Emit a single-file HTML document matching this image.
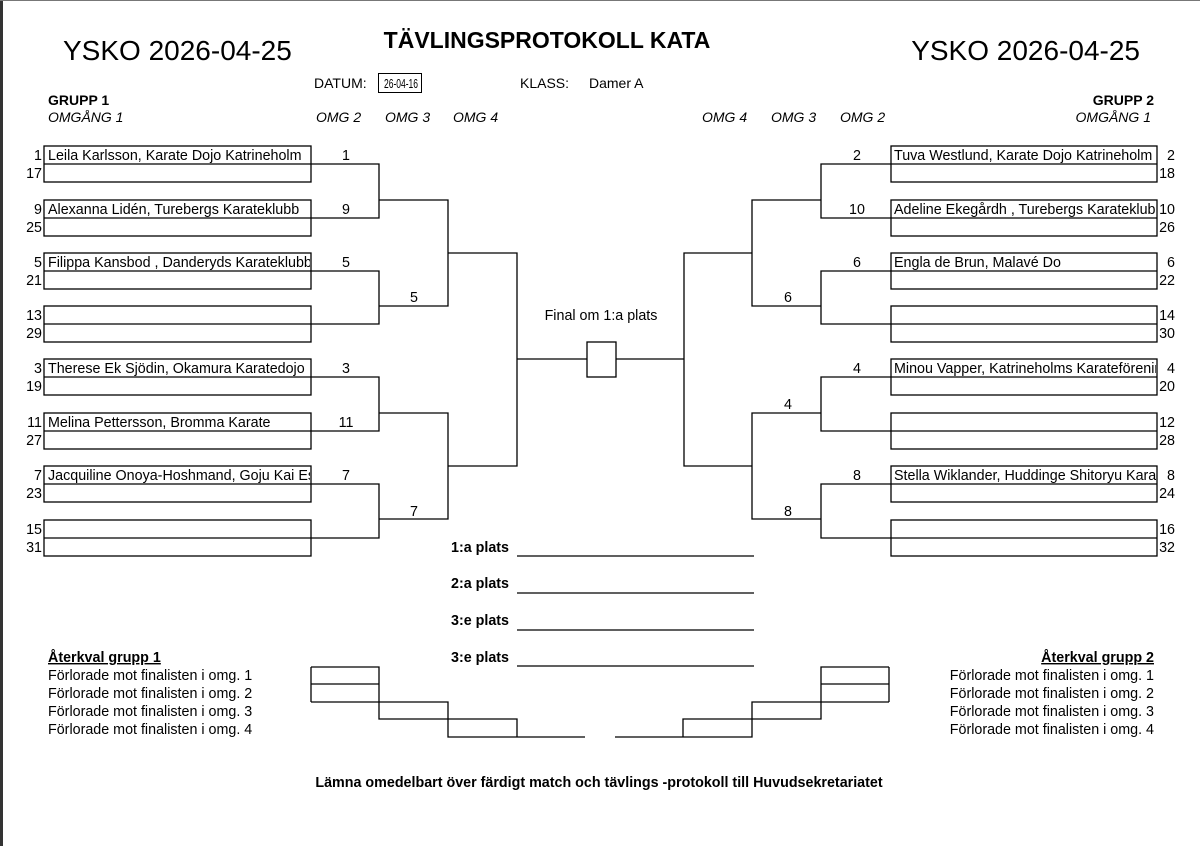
<!DOCTYPE html>
<html><head><meta charset="utf-8"><style>
html,body{margin:0;padding:0;background:#fff;}
svg{display:block;font-family:"Liberation Sans",Arial,sans-serif;}
</style></head><body>
<svg width="1200" height="846" viewBox="0 0 1200 846" xmlns="http://www.w3.org/2000/svg">
<rect x="0" y="0" width="1200" height="846" fill="#fff"/>
<rect x="0" y="0" width="3" height="846" fill="#333"/>
<rect x="0" y="0" width="1200" height="1" fill="#777"/>
<defs>
<clipPath id="lc"><rect x="44" y="0" width="266" height="846"/></clipPath>
<clipPath id="rc"><rect x="891" y="0" width="265" height="846"/></clipPath>
</defs>
<g fill="#000">
<text x="63" y="60" font-size="28">YSKO 2026-04-25</text>
<text x="1140" y="60" font-size="28" text-anchor="end">YSKO 2026-04-25</text>
<text x="547" y="48" font-size="23" font-weight="bold" text-anchor="middle">TÄVLINGSPROTOKOLL KATA</text>
<text x="314" y="88" font-size="14">DATUM:</text>
<rect x="378.5" y="73.5" width="43" height="19" fill="none" stroke="#000" stroke-width="1"/>
<text x="384" y="88" font-size="13" textLength="34" lengthAdjust="spacingAndGlyphs">26-04-16</text>
<text x="520" y="88" font-size="14">KLASS:</text>
<text x="589" y="88" font-size="14">Damer A</text>
<text x="48" y="105" font-size="14" font-weight="bold">GRUPP 1</text>
<text x="48" y="122" font-size="14" font-style="italic">OMGÅNG 1</text>
<text x="316" y="122" font-size="14" font-style="italic">OMG 2</text>
<text x="385" y="122" font-size="14" font-style="italic">OMG 3</text>
<text x="453" y="122" font-size="14" font-style="italic">OMG 4</text>
<text x="1154" y="105" font-size="14" font-weight="bold" text-anchor="end">GRUPP 2</text>
<text x="1151" y="122" font-size="14" font-style="italic" text-anchor="end">OMGÅNG 1</text>
<text x="702" y="122" font-size="14" font-style="italic">OMG 4</text>
<text x="771" y="122" font-size="14" font-style="italic">OMG 3</text>
<text x="840" y="122" font-size="14" font-style="italic">OMG 2</text>
</g>

<g fill="none" stroke="#000" stroke-width="1.3">
<rect x="44" y="146" width="267" height="36"/><line x1="44" y1="164" x2="311" y2="164"/>
<rect x="44" y="200" width="267" height="36"/><line x1="44" y1="218" x2="311" y2="218"/>
<rect x="44" y="253" width="267" height="36"/><line x1="44" y1="271" x2="311" y2="271"/>
<rect x="44" y="306" width="267" height="36"/><line x1="44" y1="324" x2="311" y2="324"/>
<rect x="44" y="359" width="267" height="36"/><line x1="44" y1="377" x2="311" y2="377"/>
<rect x="44" y="413" width="267" height="36"/><line x1="44" y1="431" x2="311" y2="431"/>
<rect x="44" y="466" width="267" height="36"/><line x1="44" y1="484" x2="311" y2="484"/>
<rect x="44" y="520" width="267" height="36"/><line x1="44" y1="538" x2="311" y2="538"/>
<rect x="891" y="146" width="266" height="36"/><line x1="891" y1="164" x2="1157" y2="164"/>
<rect x="891" y="200" width="266" height="36"/><line x1="891" y1="218" x2="1157" y2="218"/>
<rect x="891" y="253" width="266" height="36"/><line x1="891" y1="271" x2="1157" y2="271"/>
<rect x="891" y="306" width="266" height="36"/><line x1="891" y1="324" x2="1157" y2="324"/>
<rect x="891" y="359" width="266" height="36"/><line x1="891" y1="377" x2="1157" y2="377"/>
<rect x="891" y="413" width="266" height="36"/><line x1="891" y1="431" x2="1157" y2="431"/>
<rect x="891" y="466" width="266" height="36"/><line x1="891" y1="484" x2="1157" y2="484"/>
<rect x="891" y="520" width="266" height="36"/><line x1="891" y1="538" x2="1157" y2="538"/>
<polyline points="311,164 379,164 379,218 311,218"/>
<polyline points="311,271 379,271 379,324 311,324"/>
<polyline points="311,377 379,377 379,431 311,431"/>
<polyline points="311,484 379,484 379,538 311,538"/>
<polyline points="379,200 448,200 448,306 379,306"/>
<polyline points="379,413 448,413 448,519 379,519"/>
<polyline points="448,253 517,253 517,466 448,466"/>
<line x1="517" y1="359" x2="587" y2="359"/>
<rect x="587" y="342" width="29" height="35"/>
<line x1="616" y1="359" x2="684" y2="359"/>
<polyline points="891,164 821,164 821,218 891,218"/>
<polyline points="891,271 821,271 821,324 891,324"/>
<polyline points="891,377 821,377 821,431 891,431"/>
<polyline points="891,484 821,484 821,538 891,538"/>
<polyline points="821,200 752,200 752,306 821,306"/>
<polyline points="821,413 752,413 752,519 821,519"/>
<polyline points="752,253 684,253 684,466 752,466"/>
<line x1="517" y1="556" x2="754" y2="556"/>
<line x1="517" y1="593" x2="754" y2="593"/>
<line x1="517" y1="630" x2="754" y2="630"/>
<line x1="517" y1="666" x2="754" y2="666"/>
<polyline points="311,667 379,667 379,719 517,719 517,737"/>
<line x1="311" y1="667" x2="311" y2="702"/>
<line x1="311" y1="684" x2="379" y2="684"/>
<polyline points="311,702 448,702 448,737 585,737"/>
<polyline points="889,667 821,667 821,719 683,719 683,737"/>
<line x1="889" y1="667" x2="889" y2="702"/>
<line x1="889" y1="684" x2="821" y2="684"/>
<polyline points="889,702 752,702 752,737 615,737"/>
</g>

<g fill="#000" font-size="14.3">
<g text-anchor="end">
<text x="42" y="160">1</text><text x="42" y="178">17</text>
<text x="42" y="214">9</text><text x="42" y="232">25</text>
<text x="42" y="267">5</text><text x="42" y="285">21</text>
<text x="42" y="320">13</text><text x="42" y="338">29</text>
<text x="42" y="373">3</text><text x="42" y="391">19</text>
<text x="42" y="427">11</text><text x="42" y="445">27</text>
<text x="42" y="480">7</text><text x="42" y="498">23</text>
<text x="42" y="534">15</text><text x="42" y="552">31</text>
<text x="1175" y="160">2</text><text x="1175" y="178">18</text>
<text x="1175" y="214">10</text><text x="1175" y="232">26</text>
<text x="1175" y="267">6</text><text x="1175" y="285">22</text>
<text x="1175" y="320">14</text><text x="1175" y="338">30</text>
<text x="1175" y="373">4</text><text x="1175" y="391">20</text>
<text x="1175" y="427">12</text><text x="1175" y="445">28</text>
<text x="1175" y="480">8</text><text x="1175" y="498">24</text>
<text x="1175" y="534">16</text><text x="1175" y="552">32</text>
</g>
<g clip-path="url(#lc)">
<text x="48" y="160">Leila Karlsson, Karate Dojo Katrineholm</text>
<text x="48" y="214">Alexanna Lidén, Turebergs Karateklubb</text>
<text x="48" y="267">Filippa Kansbod , Danderyds Karateklubb</text>
<text x="48" y="373">Therese Ek Sjödin, Okamura Karatedojo</text>
<text x="48" y="427">Melina Pettersson, Bromma Karate</text>
<text x="48" y="480">Jacquiline Onoya-Hoshmand, Goju Kai Eskilstuna</text>
</g>
<g clip-path="url(#rc)">
<text x="894" y="160">Tuva Westlund, Karate Dojo Katrineholm</text>
<text x="894" y="214">Adeline Ekegårdh , Turebergs Karateklubb</text>
<text x="894" y="267">Engla de Brun, Malavé Do</text>
<text x="894" y="373">Minou Vapper, Katrineholms Karateförening</text>
<text x="894" y="480">Stella Wiklander, Huddinge Shitoryu Karate</text>
</g>
<g text-anchor="middle">
<text x="346" y="160">1</text><text x="346" y="214">9</text><text x="346" y="267">5</text>
<text x="346" y="373">3</text><text x="346" y="427">11</text><text x="346" y="480">7</text>
<text x="414" y="302">5</text><text x="414" y="516">7</text>
<text x="857" y="160">2</text><text x="857" y="214">10</text><text x="857" y="267">6</text>
<text x="857" y="373">4</text><text x="857" y="480">8</text>
<text x="788" y="302">6</text><text x="788" y="409">4</text><text x="788" y="516">8</text>
<text x="601" y="320">Final om 1:a plats</text>
</g>
<g font-weight="bold">
<text x="451" y="552">1:a plats</text>
<text x="451" y="588">2:a plats</text>
<text x="451" y="625">3:e plats</text>
<text x="451" y="662">3:e plats</text>
</g>
<text x="48" y="662" font-weight="bold" text-decoration="underline">Återkval grupp 1</text>
<text x="48" y="680">Förlorade mot finalisten i omg. 1</text>
<text x="48" y="698">Förlorade mot finalisten i omg. 2</text>
<text x="48" y="716">Förlorade mot finalisten i omg. 3</text>
<text x="48" y="734">Förlorade mot finalisten i omg. 4</text>
<g text-anchor="end">
<text x="1154" y="662" font-weight="bold" text-decoration="underline">Återkval grupp 2</text>
<text x="1154" y="680">Förlorade mot finalisten i omg. 1</text>
<text x="1154" y="698">Förlorade mot finalisten i omg. 2</text>
<text x="1154" y="716">Förlorade mot finalisten i omg. 3</text>
<text x="1154" y="734">Förlorade mot finalisten i omg. 4</text>
</g>
<text x="599" y="787" font-weight="bold" text-anchor="middle">Lämna omedelbart över färdigt match och tävlings -protokoll till Huvudsekretariatet</text>
</g>
</svg>
</body></html>
